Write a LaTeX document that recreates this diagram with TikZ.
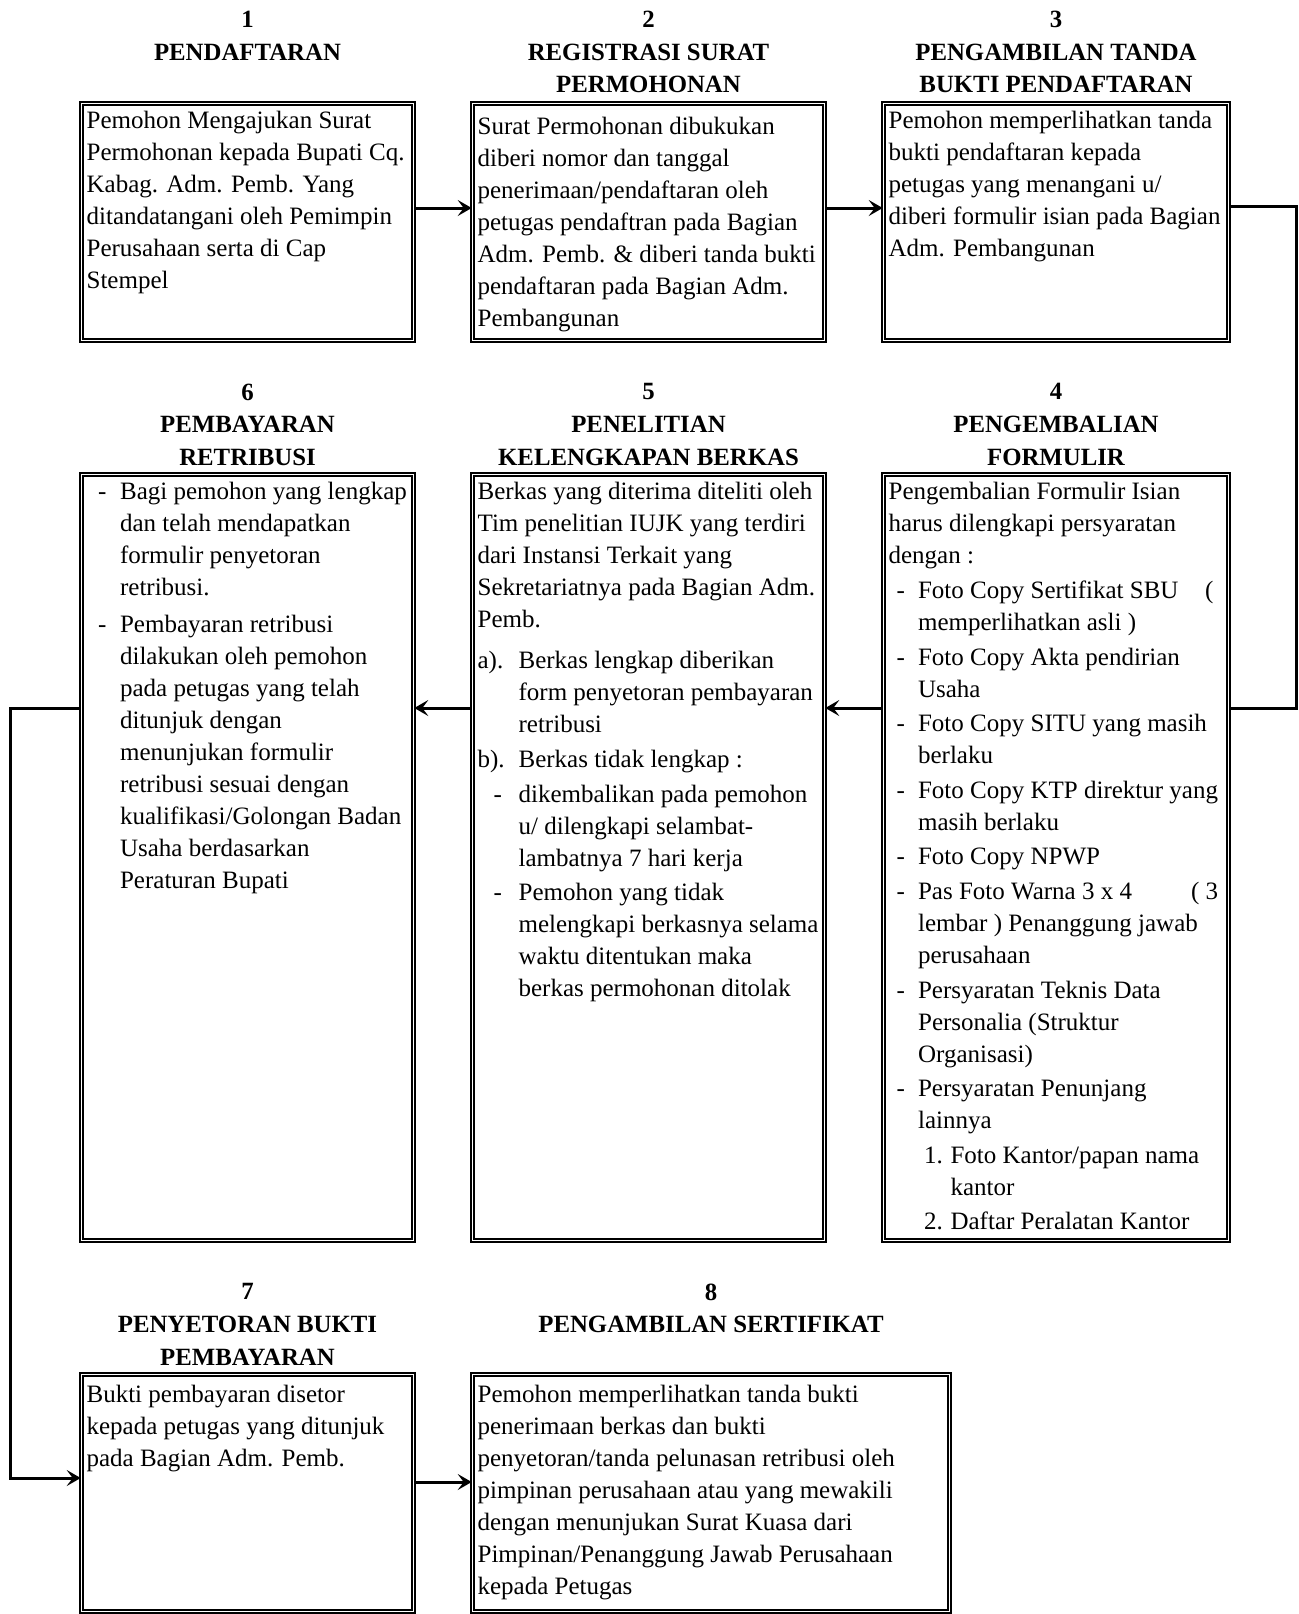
\documentclass[tikz,border=0pt]{standalone}
\usepackage{fontspec}
\setmainfont{Liberation Serif}
\usetikzlibrary{arrows.meta}

\newcommand{\bodysize}{\fontsize{12.5pt}{16pt}\selectfont}
\newcommand{\titlesize}{\fontsize{12.4pt}{16.3pt}\selectfont\bfseries}
% dash at #1, text after it at #1+#2
\newcommand{\dashat}[2]{\hspace*{#1}\makebox[#2][l]{-}}
\newcommand{\indat}[1]{\hspace*{#1}}

\tikzset{
  box/.style={draw, line width=0.8pt, double=white, double distance=0.9pt},
  txt/.style={anchor=north west, align=left, inner xsep=2.75pt, inner ysep=4.25pt, font=\bodysize},
  ttl/.style={anchor=north, align=center, inner sep=0pt, font=\titlesize},
  flow/.style={line width=1.5pt}
}

\begin{document}
\begin{tikzpicture}[x=0.5pt, y=-0.5pt, >={Stealth[length=7pt, width=8pt, inset=3pt]}]
  \useasboundingbox (0,0) rectangle (1299,1614);

  % boxes
  \node[box, minimum width=166pt, minimum height=118.5pt] (b1) at (247.5,222) {};
  \node[box, minimum width=176pt, minimum height=118.5pt] (b2) at (648.5,222) {};
  \node[box, minimum width=172.5pt, minimum height=118.5pt] (b3) at (1056,222) {};
  \node[box, minimum width=172.5pt, minimum height=383pt] (b4) at (1056,857.5) {};
  \node[box, minimum width=176pt, minimum height=383pt] (b5) at (648.5,857.5) {};
  \node[box, minimum width=166pt, minimum height=383pt] (b6) at (247.5,857.5) {};
  \node[box, minimum width=166pt, minimum height=118.5pt] (b7) at (247.5,1493) {};
  \node[box, minimum width=238.5pt, minimum height=118.5pt] (b8) at (711,1493) {};

  % titles
  \node[ttl] (h1) at ([yshift=46pt]b1.north) {1\\PENDAFTARAN};
  \node[ttl] (h2) at ([yshift=46pt]b2.north) {2\\REGISTRASI SURAT\\PERMOHONAN};
  \node[ttl] (h3) at ([yshift=46pt]b3.north) {3\\PENGAMBILAN TANDA\\BUKTI PENDAFTARAN};
  \node[ttl] (h4) at ([yshift=45.25pt]b4.north) {4\\PENGEMBALIAN\\FORMULIR};
  \node[ttl] (h5) at ([yshift=45.25pt]b5.north) {5\\PENELITIAN\\KELENGKAPAN BERKAS};
  \node[ttl] (h6) at ([yshift=45.25pt]b6.north) {6\\PEMBAYARAN\\RETRIBUSI};
  \node[ttl] (h7) at ([yshift=45.25pt]b7.north) {7\\PENYETORAN BUKTI\\PEMBAYARAN};
  \node[ttl] (h8) at ([yshift=45.25pt]b8.north) {8\\PENGAMBILAN SERTIFIKAT};

  % texts
  \node[txt] (t1) at (b1.north west) {Pemohon Mengajukan Surat\\
    Permohonan kepada Bupati Cq.\\
    Kabag. Adm. Pemb. Yang\\
    ditandatangani oleh Pemimpin\\
    Perusahaan serta di Cap\\
    Stempel};
  \node[txt, yshift=-3pt] (t2) at (b2.north west) {Surat Permohonan dibukukan\\
    diberi nomor dan tanggal\\
    penerimaan/pendaftaran oleh\\
    petugas pendaftran pada Bagian\\
    Adm. Pemb. \& diberi tanda bukti\\
    pendaftaran pada Bagian Adm.\\
    Pembangunan};
  \node[txt] (t3) at (b3.north west) {Pemohon memperlihatkan tanda\\
    bukti pendaftaran kepada\\
    petugas yang menangani u/\\
    diberi formulir isian pada Bagian\\
    Adm. Pembangunan};
  \node[txt] (t4) at (b4.north west) {Pengembalian Formulir Isian\\
    harus dilengkapi persyaratan\\
    dengan :\\[1.3pt]
    \dashat{4pt}{10.75pt}\makebox[143.5pt][l]{Foto Copy Sertifikat SBU}(\\
    \indat{14.75pt}memperlihatkan asli )\\[1.3pt]
    \dashat{4pt}{10.75pt}Foto Copy Akta pendirian\\
    \indat{14.75pt}Usaha\\[1.3pt]
    \dashat{4pt}{10.75pt}Foto Copy SITU yang masih\\
    \indat{14.75pt}berlaku\\[1.3pt]
    \dashat{4pt}{10.75pt}Foto Copy KTP direktur yang\\
    \indat{14.75pt}masih berlaku\\[1.3pt]
    \dashat{4pt}{10.75pt}Foto Copy NPWP\\[1.3pt]
    \dashat{4pt}{10.75pt}\makebox[136.5pt][l]{Pas Foto Warna 3 x 4}( 3\\
    \indat{14.75pt}lembar ) Penanggung jawab\\
    \indat{14.75pt}perusahaan\\[1.3pt]
    \dashat{4pt}{10.75pt}Persyaratan Teknis Data\\
    \indat{14.75pt}Personalia (Struktur\\
    \indat{14.75pt}Organisasi)\\[1.3pt]
    \dashat{4pt}{10.75pt}Persyaratan Penunjang\\
    \indat{14.75pt}lainnya\\[1.3pt]
    \indat{17.75pt}\makebox[13.25pt][l]{1.}Foto Kantor/papan nama\\
    \indat{31pt}kantor\\[1.3pt]
    \indat{17.75pt}\makebox[13.25pt][l]{2.}Daftar Peralatan Kantor};
  \node[txt] (t5) at (b5.north west) {Berkas yang diterima diteliti oleh\\
    Tim penelitian IUJK yang terdiri\\
    dari Instansi Terkait yang\\
    Sekretariatnya pada Bagian Adm.\\
    Pemb.\\[4.5pt]
    \makebox[20.5pt][l]{a).}Berkas lengkap diberikan\\
    \indat{20.5pt}form penyetoran pembayaran\\
    \indat{20.5pt}retribusi\\[1.5pt]
    \makebox[20.5pt][l]{b).}Berkas tidak lengkap :\\[1.5pt]
    \dashat{8pt}{12.5pt}dikembalikan pada pemohon\\
    \indat{20.5pt}u/ dilengkapi selambat-\\
    \indat{20.5pt}lambatnya 7 hari kerja\\[1pt]
    \dashat{8pt}{12.5pt}Pemohon yang tidak\\
    \indat{20.5pt}melengkapi berkasnya selama\\
    \indat{20.5pt}waktu ditentukan maka\\
    \indat{20.5pt}berkas permohonan ditolak};
  \node[txt] (t6) at (b6.north west) {\dashat{5.75pt}{11pt}Bagi pemohon yang lengkap\\
    \indat{16.75pt}dan telah mendapatkan\\
    \indat{16.75pt}formulir penyetoran\\
    \indat{16.75pt}retribusi.\\[2.5pt]
    \dashat{5.75pt}{11pt}Pembayaran retribusi\\
    \indat{16.75pt}dilakukan oleh pemohon\\
    \indat{16.75pt}pada petugas yang telah\\
    \indat{16.75pt}ditunjuk dengan\\
    \indat{16.75pt}menunjukan formulir\\
    \indat{16.75pt}retribusi sesuai dengan\\
    \indat{16.75pt}kualifikasi/Golongan Badan\\
    \indat{16.75pt}Usaha berdasarkan\\
    \indat{16.75pt}Peraturan Bupati};
  \node[txt, yshift=-1.5pt] (t7) at (b7.north west) {Bukti pembayaran disetor\\
    kepada petugas yang ditunjuk\\
    pada Bagian Adm. Pemb.};
  \node[txt, yshift=-1.5pt] (t8) at (b8.north west) {Pemohon memperlihatkan tanda bukti\\
    penerimaan berkas dan bukti\\
    penyetoran/tanda pelunasan retribusi oleh\\
    pimpinan perusahaan atau yang mewakili\\
    dengan menunjukan Surat Kuasa dari\\
    Pimpinan/Penanggung Jawab Perusahaan\\
    kepada Petugas};

  % connectors
  \coordinate (rside) at (1296,708);
  \coordinate (lside) at (10,1478);
  \draw[flow,->] ([yshift=7pt]b1.east) -- ([yshift=7pt]b2.west);
  \draw[flow,->] ([yshift=7pt]b2.east) -- ([yshift=7pt]b3.west);
  \draw[flow] ([yshift=8pt]b3.east) -| (rside) -- (rside -| b4.east);
  \draw[flow,->] (rside -| b4.west) -- (rside -| b5.east);
  \draw[flow,->] (rside -| b5.west) -- (rside -| b6.east);
  \draw[flow,->] (rside -| b6.west) -| (lside) -- (lside -| b7.west);
  \draw[flow,->] ([yshift=5.5pt]b7.east) -- ([yshift=5.5pt]b8.west);
\end{tikzpicture}
\end{document}
